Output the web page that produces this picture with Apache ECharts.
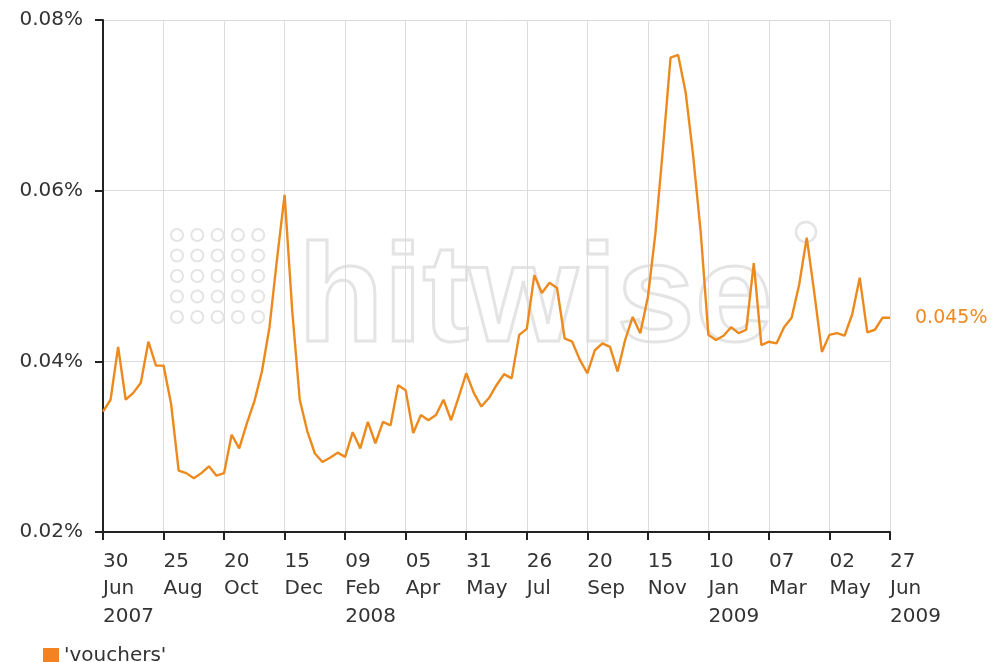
<!DOCTYPE html>
<html>
<head>
<meta charset="utf-8">
<script src="https://cdn.jsdelivr.net/npm/echarts@6/dist/echarts.min.js"></script>
<style>html,body{margin:0;padding:0;background:#fff;}#c{width:1000px;height:662px;}</style>
</head>
<body>
<div id="c"></div>
<script>
var seriesName = "'vouchers'";
var startDate = '2007-06-30';
var weekCount = 105;
var tickLabels = [
  '30\nJun\n2007', '25\nAug', '20\nOct', '15\nDec', '09\nFeb\n2008', '05\nApr', '31\nMay',
  '26\nJul', '20\nSep', '15\nNov', '10\nJan\n2009', '07\nMar', '02\nMay', '27\nJun\n2009'
];
var yTicks = [0.02, 0.04, 0.06, 0.08];
var vouchers = [
  0.0341, 0.0355, 0.0417, 0.0355, 0.0363, 0.0375, 0.0423, 0.0395, 0.0395, 0.0350,
  0.0272, 0.0269, 0.0263, 0.0269, 0.0277, 0.0266, 0.0269, 0.0314, 0.0298, 0.0327,
  0.0353, 0.0388, 0.0440, 0.0520, 0.0595, 0.0460, 0.0355, 0.0318, 0.0292, 0.0282,
  0.0287, 0.0293, 0.0288, 0.0317, 0.0298, 0.0329, 0.0304, 0.0329, 0.0325, 0.0372,
  0.0366, 0.0316, 0.0337, 0.0331, 0.0337, 0.0355, 0.0331, 0.0358, 0.0386, 0.0363,
  0.0347, 0.0357, 0.0372, 0.0385, 0.0380, 0.0431, 0.0438, 0.0501, 0.0480, 0.0492,
  0.0486, 0.0427, 0.0423, 0.0402, 0.0386, 0.0413, 0.0421, 0.0417, 0.0388, 0.0425,
  0.0452, 0.0433, 0.0475, 0.0550, 0.0650, 0.0756, 0.0759, 0.0715, 0.0640, 0.0550,
  0.0431, 0.0425, 0.0430, 0.0440, 0.0433, 0.0437, 0.0515, 0.0419, 0.0423, 0.0421,
  0.0440, 0.0451, 0.0490, 0.0545, 0.0480, 0.0411, 0.0431, 0.0433, 0.0430, 0.0455,
  0.0498, 0.0434, 0.0437, 0.0451, 0.0451
];

var weeks = [];
var d0 = new Date(startDate + 'T00:00:00Z');
for (var i = 0; i < weekCount; i++) {
  var d = new Date(d0.getTime() + i * 7 * 86400000);
  weeks.push(d.toISOString().slice(0, 10));
}

var FONT = 'DejaVu Sans';
var chart = echarts.init(document.getElementById('c'));

// watermark dots
var dots = [];
for (var r = 0; r < 5; r++) {
  for (var c = 0; c < 5; c++) {
    dots.push({
      type: 'circle',
      shape: { cx: 177 + c * 20.3, cy: 235 + r * 20.5, r: 6 },
      style: { fill: 'rgba(0,0,0,0)', stroke: '#e4e4e4', lineWidth: 2 },
      silent: true
    });
  }
}

chart.setOption({
  animation: false,
  backgroundColor: '#fff',
  grid: { left: 103, right: 110, top: 20, bottom: 130, containLabel: false },
  graphic: [
    { type: 'group', z: 1, silent: true, children: dots.concat([
      {
        type: 'text', x: 298, y: 232,
        style: {
          text: 'hitwise', font: 'bold 140px "Liberation Sans"',
          fill: 'rgba(0,0,0,0)', stroke: '#e4e4e4', lineWidth: 3
        }
      },
      {
        type: 'circle', shape: { cx: 806, cy: 232, r: 10 },
        style: { fill: 'rgba(0,0,0,0)', stroke: '#e4e4e4', lineWidth: 2.5 }
      }
    ]) }
  ],
  legend: {
    left: 38, top: 641,
    itemWidth: 16, itemHeight: 16, itemGap: 10,
    icon: 'rect',
    textStyle: { fontFamily: FONT, fontSize: 20, color: '#333' },
    data: [{ name: seriesName, itemStyle: { color: '#f58220' } }]
  },
  xAxis: {
    type: 'category',
    data: weeks,
    boundaryGap: false,
    axisLine: { lineStyle: { color: '#222', width: 2 } },
    axisTick: { show: true, interval: 7, length: 8, lineStyle: { color: '#222', width: 2 } },
    axisLabel: {
      interval: 7,
      align: 'left',
      margin: 16,
      fontFamily: FONT,
      fontSize: 20,
      lineHeight: 27.5,
      color: '#333',
      formatter: function (v, idx) { return tickLabels[Math.round(idx / 8)] || ''; }
    },
    splitLine: { show: true, interval: 7, lineStyle: { color: '#dcdcdc', width: 1 } }
  },
  yAxis: {
    type: 'value',
    min: yTicks[0], max: yTicks[yTicks.length - 1], interval: 0.02,
    axisLine: { show: true, lineStyle: { color: '#222', width: 2 } },
    axisTick: { show: true, length: 8, lineStyle: { color: '#222', width: 2 } },
    axisLabel: {
      margin: 20,
      fontFamily: FONT,
      fontSize: 20,
      color: '#333',
      formatter: function (v) { return v.toFixed(2) + '%'; }
    },
    splitLine: { show: true, lineStyle: { color: '#dcdcdc', width: 1 } }
  },
  series: [{
    name: seriesName,
    type: 'line',
    data: vouchers,
    symbol: 'none',
    z: 5,
    lineStyle: { color: '#ec8a1e', width: 2.4 },
    itemStyle: { color: '#f58220' },
    endLabel: {
      show: true,
      distance: 25,
      fontFamily: FONT,
      fontSize: 19,
      color: '#ee8a22',
      formatter: function (p) { return p.value.toFixed(3) + '%'; }
    }
  }]
});
</script>
</body>
</html>
